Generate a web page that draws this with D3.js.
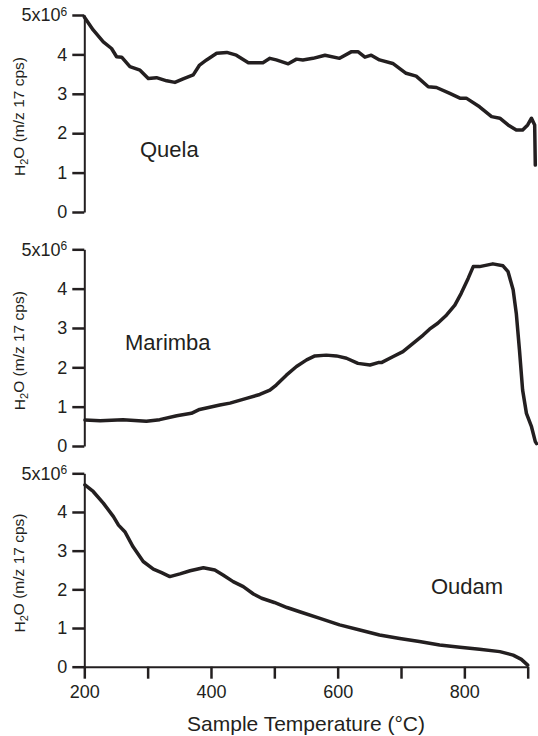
<!DOCTYPE html>
<html><head><meta charset="utf-8">
<script src="https://cdn.jsdelivr.net/npm/d3@7"></script>
<style>body{margin:0;background:#fff}svg{display:block}</style>
</head><body>
<script>
// ---- data (values in 10^6 cps) ----
const quelaT = [200,214,230,243,251,259,272,288,301,314,330,343,356,372,382,393,409,425,440,459,482,493,503,522,535,545,561,580,603,622,632,643,653,666,687,708,724,743,756,777,793,803,824,843,856,869,882,892,900,906,911,912];
const quelaV = [4.95,4.62,4.32,4.15,3.94,3.93,3.69,3.60,3.39,3.41,3.33,3.29,3.38,3.48,3.73,3.86,4.03,4.05,3.98,3.79,3.79,3.90,3.86,3.76,3.88,3.86,3.90,3.98,3.90,4.07,4.07,3.93,3.98,3.86,3.77,3.52,3.45,3.18,3.16,3.01,2.89,2.89,2.67,2.42,2.38,2.21,2.08,2.08,2.21,2.38,2.21,1.19];

const marimbaT = [201,225,261,298,319,346,369,382,414,430,456,477,493,503,519,535,551,564,582,598,614,632,651,664,669,687,703,719,735,745,758,772,785,795,806,814,824,845,861,869,877,882,887,892,898,906,912,914];
const marimbaV = [0.66,0.64,0.67,0.63,0.67,0.77,0.83,0.93,1.04,1.09,1.21,1.31,1.42,1.55,1.80,2.02,2.19,2.29,2.31,2.29,2.23,2.10,2.06,2.12,2.12,2.27,2.40,2.61,2.82,2.97,3.12,3.33,3.58,3.88,4.26,4.56,4.56,4.63,4.58,4.43,3.97,3.37,2.44,1.42,0.83,0.49,0.11,0.06];

const oudamT = [201,214,230,246,254,264,277,293,309,322,335,351,367,388,406,419,435,451,467,480,500,520,540,572,603,635,666,698,729,761,793,824,856,877,890,900];
const oudamV = [4.70,4.53,4.23,3.88,3.66,3.49,3.10,2.72,2.52,2.43,2.33,2.40,2.48,2.56,2.50,2.37,2.20,2.07,1.88,1.77,1.66,1.53,1.42,1.25,1.08,0.95,0.82,0.73,0.65,0.56,0.50,0.45,0.39,0.30,0.19,0.04];

const sampleNames = ["Quela","Marimba","Oudam"];
const yTicks = [0,1,2,3,4,5];
const yTickLabels = ["0","1","2","3","4","5x10"];
const xTicks = [200,300,400,500,600,700,800,900];
const xTickLabels = ["200","","400","","600","","800",""];
const xTitle = "Sample Temperature (°C)";

// ---- layout ----
const W = 538, H = 736;
const ink = "#231f20";
const svg = d3.select("body").append("svg").attr("width", W).attr("height", H)
  .style("font-family", "Liberation Sans, Arial, Helvetica, sans-serif");
svg.append("rect").attr("width", W).attr("height", H).attr("fill", "#fff");

const x = d3.scaleLinear().domain([200, 900]).range([84.3, 527.7]);

const panels = [
  {T: quelaT, V: quelaV, y0: 212, y5: 15, lx: 140, ly: 157},
  {T: marimbaT, V: marimbaV, y0: 446, y5: 249.3, lx: 125, ly: 350},
  {T: oudamT, V: oudamV, y0: 666.7, y5: 473.3, lx: 431, ly: 594}
];

panels.forEach((p, i) => {
  const y = d3.scaleLinear().domain([0, 5]).range([p.y0, p.y5]);
  const g = svg.append("g");

  const ax = g.append("g").attr("transform", `translate(${x(200)},0)`)
    .call(d3.axisLeft(y).tickValues(yTicks).tickSize(12).tickSizeOuter(0).tickPadding(5)
      .tickFormat((d, k) => yTickLabels[k]));
  ax.select(".domain").attr("stroke", ink).attr("stroke-width", 2);
  ax.selectAll(".tick line").attr("stroke", ink).attr("stroke-width", 2.5);
  ax.selectAll(".tick text").attr("fill", ink).style("font-size", "18px")
    .attr("font-family", "Liberation Sans, Arial, sans-serif");
  ax.selectAll(".tick text").filter(d => d === 5)
    .append("tspan").attr("dy", "-0.45em").style("font-size", "12px").text("6");

  // y title
  const ty = g.append("text")
    .attr("transform", `translate(25,${(p.y0 + p.y5) / 2 + 3}) rotate(-90)`)
    .attr("text-anchor", "middle").attr("fill", ink).style("font-size", "15.5px");
  ty.append("tspan").text("H");
  ty.append("tspan").attr("dy", "0.3em").style("font-size", "11px").text("2");
  ty.append("tspan").attr("dy", "-0.3em").text("O (m/z 17 cps)");

  // line
  const line = d3.line().x((d, k) => x(p.T[k])).y(d => y(d));
  g.append("path").datum(p.V).attr("d", line)
    .attr("fill", "none").attr("stroke", ink).attr("stroke-width", 3.5)
    .attr("stroke-linejoin", "round").attr("stroke-linecap", "round");

  g.append("text").attr("x", p.lx).attr("y", p.ly).attr("fill", ink)
    .style("font-size", "22px").text(sampleNames[i]);

  if (i === 2) {
    const bx = g.append("g").attr("transform", `translate(0,${p.y0})`)
      .call(d3.axisBottom(x).tickValues(xTicks).tickSize(12).tickSizeOuter(0).tickPadding(7)
        .tickFormat((d, k) => xTickLabels[k]));
    bx.select(".domain").attr("stroke", ink).attr("stroke-width", 2);
    bx.selectAll(".tick line").attr("stroke", ink).attr("stroke-width", 2.5);
    bx.selectAll(".tick text").attr("fill", ink).style("font-size", "18px")
      .attr("font-family", "Liberation Sans, Arial, sans-serif");
    g.append("text").attr("x", 306).attr("y", 731).attr("text-anchor", "middle")
      .attr("fill", ink).style("font-size", "21px").text(xTitle);
  }
});
</script>
</body></html>
